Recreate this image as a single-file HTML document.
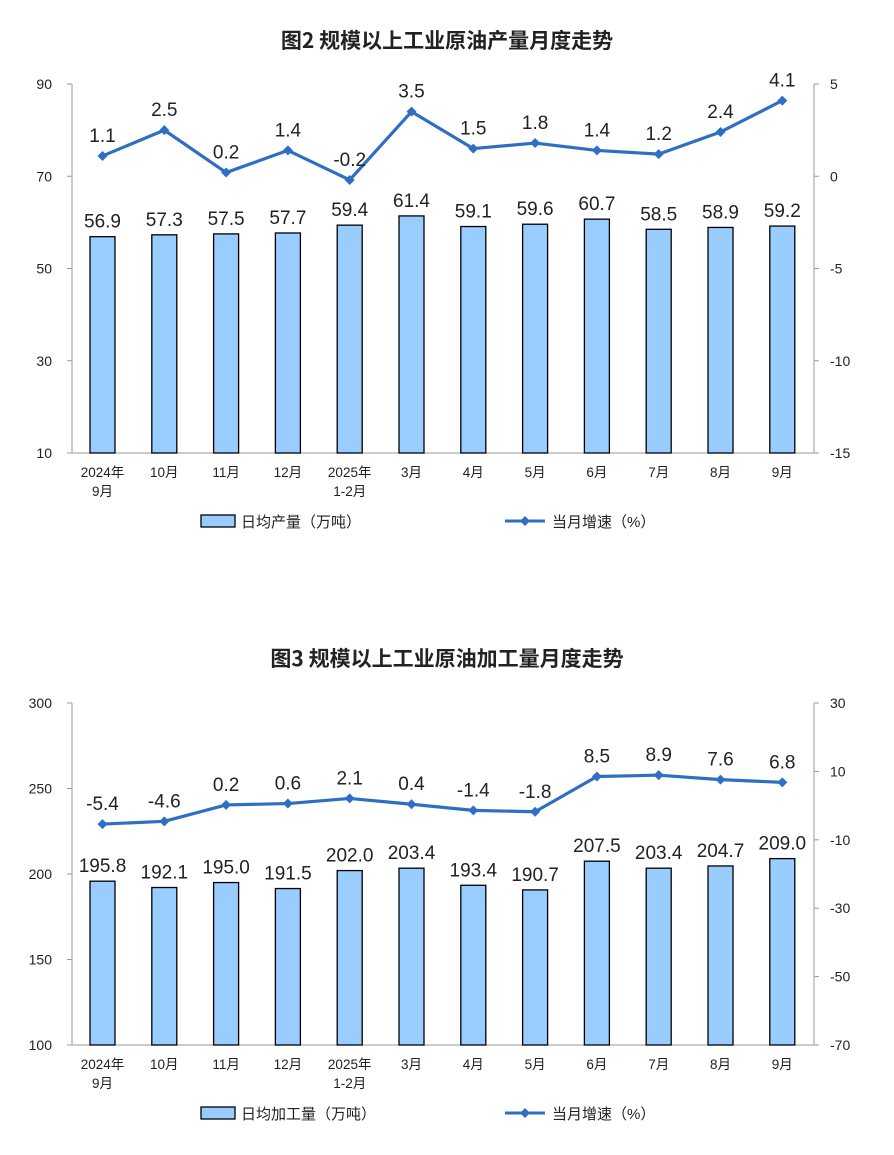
<!DOCTYPE html>
<html><head><meta charset="utf-8"><style>
body{margin:0;background:#fff;}
svg{display:block;font-family:"Liberation Sans","Noto Sans CJK SC",sans-serif;}
</style></head><body>
<svg id="s" width="894" height="1155" xmlns="http://www.w3.org/2000/svg"></svg>
<script>
const s=document.getElementById('s');let h='';
const cats=[['2024年','9月'],['10月'],['11月'],['12月'],['2025年','1-2月'],['3月'],['4月'],['5月'],['6月'],['7月'],['8月'],['9月']];
function chart(o){
 h+=`<text x="447" y="${o.ty}" font-size="21" text-anchor="middle" font-family="Noto Sans CJK SC,sans-serif" font-weight="bold" fill="#222">${o.title}</text>`;
 const L=72,R=814;
 h+=`<line x1="${L}" y1="${o.top}" x2="${L}" y2="${o.bot}" stroke="#999"/><line x1="${R}" y1="${o.top}" x2="${R}" y2="${o.bot}" stroke="#999"/><line x1="${L}" y1="${o.bot}" x2="${R}" y2="${o.bot}" stroke="#999"/>`;
 o.lt.forEach((v,i)=>{const y=o.top+(o.bot-o.top)*i/(o.lt.length-1);h+=`<line x1="${L-5}" y1="${y}" x2="${L}" y2="${y}" stroke="#999"/><text x="52" y="${y+5}" font-size="14" text-anchor="end" fill="#222">${v}</text>`;});
 o.rt.forEach((v,i)=>{const y=o.top+(o.bot-o.top)*i/(o.rt.length-1);h+=`<line x1="${R}" y1="${y}" x2="${R+5}" y2="${y}" stroke="#999"/><text x="${R+16}" y="${y+5}" font-size="14" fill="#222">${v}</text>`;});
 const ly=v=>o.bot-(v-o.lmin)/(o.lmax-o.lmin)*(o.bot-o.top);
 const ry=v=>o.bot-(v-o.rmin)/(o.rmax-o.rmin)*(o.bot-o.top);
 let pts=[];
 o.bars.forEach((v,i)=>{const c=102.5+i*61.8,y=ly(v);
  h+=`<rect x="${c-12.5}" y="${y}" width="25" height="${o.bot-y}" fill="#99ccff" stroke="#000" stroke-width="1.3"/>`;
  h+=`<text x="${c}" y="${y-9}" font-size="19" text-anchor="middle" fill="#222">${v.toFixed(1)}</text>`;
  cats[i].forEach((t,j)=>h+=`<text x="${c}" y="${o.bot+24+j*19}" font-size="13.5" text-anchor="middle" fill="#222">${t}</text>`);
  pts.push([c,ry(o.line[i])]);});
 h+=`<polyline points="${pts.map(p=>p.join(',')).join(' ')}" fill="none" stroke="#2e6fc4" stroke-width="3.2" stroke-linejoin="round"/>`;
 pts.forEach((p,i)=>{h+=`<polygon points="${p[0]},${p[1]-5} ${p[0]+5},${p[1]} ${p[0]},${p[1]+5} ${p[0]-5},${p[1]}" fill="#2e6fc4"/>`;
  h+=`<text x="${p[0]}" y="${p[1]-14}" font-size="19" text-anchor="middle" fill="#222">${o.line[i].toFixed(1)}</text>`;});
 const g=o.bot+68;
 h+=`<rect x="201" y="${g-6}" width="34" height="12" fill="#99ccff" stroke="#000" stroke-width="1.3"/><text x="241" y="${g+6}" font-size="15" fill="#222">${o.leg}</text>`;
 h+=`<line x1="505" y1="${g}" x2="545" y2="${g}" stroke="#2e6fc4" stroke-width="3"/><polygon points="525,${g-5} 530,${g} 525,${g+5} 520,${g}" fill="#2e6fc4"/><text x="552" y="${g+6}" font-size="15" fill="#222">当月增速（%）</text>`;
}
chart({title:'图2  规模以上工业原油产量月度走势',ty:48,top:84,bot:453,lt:[90,70,50,30,10],rt:[5,0,-5,-10,-15],lmin:10,lmax:90,rmin:-15,rmax:5,
 bars:[56.9,57.3,57.5,57.7,59.4,61.4,59.1,59.6,60.7,58.5,58.9,59.2],line:[1.1,2.5,0.2,1.4,-0.2,3.5,1.5,1.8,1.4,1.2,2.4,4.1],leg:'日均产量（万吨）'});
chart({title:'图3  规模以上工业原油加工量月度走势',ty:666,top:703,bot:1045,lt:[300,250,200,150,100],rt:[30,10,-10,-30,-50,-70],lmin:100,lmax:300,rmin:-70,rmax:30,
 bars:[195.8,192.1,195.0,191.5,202.0,203.4,193.4,190.7,207.5,203.4,204.7,209.0],line:[-5.4,-4.6,0.2,0.6,2.1,0.4,-1.4,-1.8,8.5,8.9,7.6,6.8],leg:'日均加工量（万吨）'});
s.innerHTML=h;
</script>
</body></html>
